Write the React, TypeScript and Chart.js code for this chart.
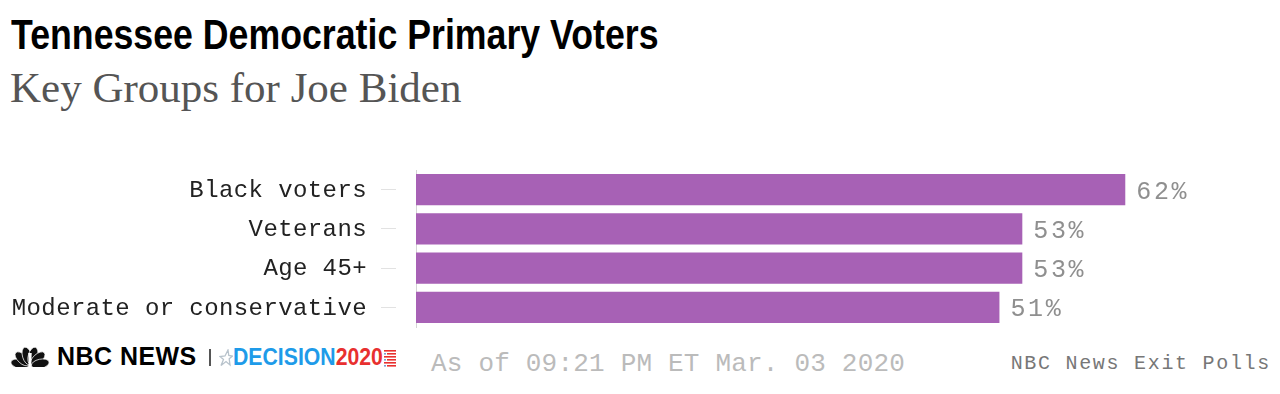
import React, { useEffect, useRef } from "react";
import { Chart, registerables } from "chart.js";

Chart.register(...registerables);

const categories = ["Black voters", "Veterans", "Age 45+", "Moderate or conservative"];
const values = [62, 53, 53, 51];
const valueSuffix = "%";
const xMax = 75;

const titleText = "Tennessee Democratic Primary Voters";
const subtitleText = "Key Groups for Joe Biden";
const asOfText = "As of 09:21 PM ET Mar. 03 2020";
const sourceText = "NBC News Exit Polls";

const BAR_COLOR = "#a761b5";
const MONO = '"Liberation Mono"';

const letterSpacingPlugin = {
  id: "letterSpacingPlugin",
  beforeDraw(chart: any) {
    chart.ctx.letterSpacing = "0.4px";
  },
};

const valueLabelPlugin = {
  id: "valueLabelPlugin",
  afterDatasetsDraw(chart: any) {
    const ctx = chart.ctx;
    const meta = chart.getDatasetMeta(0);
    ctx.save();
    ctx.letterSpacing = "2.6px";
    ctx.font = "25px " + MONO;
    ctx.fillStyle = "#8f8f8f";
    ctx.textAlign = "left";
    ctx.textBaseline = "alphabetic";
    meta.data.forEach((el: any, i: number) => {
      ctx.fillText(String(values[i]) + valueSuffix, el.x + 11, el.y + 9);
    });
    ctx.restore();
  },
};

function Peacock() {
  const angles = [-78, -47, -16, 16, 47, 78];
  const bx = 21;
  const by = 20;
  const dist = 10.5;
  return (
    <svg width="42" height="21" viewBox="0 0 42 21" style={{ position: "absolute", left: 9, top: 346 }}>
      {angles.map((a, i) => {
        const r = (a * Math.PI) / 180;
        const cx = bx + dist * Math.sin(r);
        const cy = by - dist * Math.cos(r);
        return (
          <ellipse
            key={i}
            cx={cx}
            cy={cy}
            rx={4.6}
            ry={9}
            fill="#111"
            stroke="#fff"
            strokeWidth={0.7}
            transform={`rotate(${a} ${cx} ${cy})`}
          />
        );
      })}
      <path d="M19.3 7 L22.7 7 L22.2 21 L19.8 21 Z" fill="#fff" />
    </svg>
  );
}

function Star() {
  return (
    <svg width="14" height="18" viewBox="0 0 14 18" style={{ position: "absolute", left: 219, top: 349 }}>
      <path
        d="M9 1 L9.8 6.5 L13.5 7 L10.2 9.8 L11 16 L7 12.5 L2 16.5 L4.5 10.5 L1 7.5 L6 7 Z"
        fill="none"
        stroke="#b8c3cc"
        strokeWidth="1.3"
      />
    </svg>
  );
}

function Stripes() {
  const rows = [0, 1, 2, 3, 4, 5];
  return (
    <svg width="13" height="17" viewBox="0 0 13 17" style={{ position: "absolute", left: 384, top: 350 }}>
      {rows.map((r) => (
        <rect key={r} x={r % 2 === 0 ? 0 : 3} y={r * 3} width={r % 2 === 0 ? 12 : 9} height={1.6} fill="#e8302f" />
      ))}
      <rect x={0} y={3} width={2} height={1.6} fill="#7a9fd6" />
      <rect x={0} y={9} width={2} height={1.6} fill="#7a9fd6" />
      <rect x={0} y={15} width={2} height={1.6} fill="#7a9fd6" />
    </svg>
  );
}

export default function App() {
  const canvasRef = useRef<HTMLCanvasElement | null>(null);

  useEffect(() => {
    if (!canvasRef.current) return;
    const chart = new Chart(canvasRef.current, {
      type: "bar",
      data: {
        labels: categories,
        datasets: [
          {
            data: values,
            backgroundColor: BAR_COLOR,
            borderWidth: 0,
            barPercentage: 0.79,
            categoryPercentage: 1,
          },
        ],
      },
      options: {
        indexAxis: "y",
        animation: false,
        responsive: false,
        maintainAspectRatio: false,
        devicePixelRatio: 1,
        layout: { padding: { top: 10, bottom: 13, left: 0, right: 6 } },
        plugins: {
          legend: { display: false },
          tooltip: { enabled: false },
        },
        scales: {
          x: {
            min: 0,
            max: xMax,
            display: false,
          },
          y: {
            position: "left",
            afterFit: (scale: any) => {
              scale.width = 416;
            },
            grid: {
              display: true,
              offset: false,
              drawOnChartArea: false,
              drawTicks: true,
              tickLength: 49,
              tickColor: "#e2e2e2",
              tickWidth: 1,
              tickBorderDash: [0, 14, 15, 20],
              tickBorderDashOffset: 0,
            },
            border: { display: true, color: "#d4d4d4", width: 1 },
            ticks: {
              padding: 0,
              labelOffset: 1,
              color: "#222222",
              font: { family: MONO, size: 24, lineHeight: 0.75 },
            },
          },
        },
      },
      plugins: [letterSpacingPlugin, valueLabelPlugin],
    } as any);
    return () => chart.destroy();
  }, []);

  return (
    <div
      style={{
        position: "absolute",
        left: 0,
        top: 0,
        width: 1280,
        height: 394,
        background: "#fff",
        overflow: "hidden",
      }}
    >
      <div
        style={{
          position: "absolute",
          left: 11,
          top: 14,
          font: 'bold 42px "Liberation Sans"',
          lineHeight: "42px",
          color: "#000",
          whiteSpace: "nowrap",
          transform: "scaleX(0.85)",
          transformOrigin: "left top",
        }}
      >
        {titleText}
      </div>
      <div
        style={{
          position: "absolute",
          left: 10,
          top: 66,
          font: '43px "Liberation Serif"',
          lineHeight: "43px",
          color: "#555",
          whiteSpace: "nowrap",
        }}
      >
        {subtitleText}
      </div>

      <canvas
        ref={canvasRef}
        width={1280}
        height={180}
        style={{ position: "absolute", left: 0, top: 160, width: 1280, height: 180 }}
      />

      <Peacock />
      <div
        style={{
          position: "absolute",
          left: 57,
          top: 343,
          font: 'bold 26px "Liberation Sans"',
          lineHeight: "26px",
          letterSpacing: "0.5px",
          color: "#000",
          whiteSpace: "nowrap",
          transform: "scaleX(0.96)",
          transformOrigin: "left top",
        }}
      >
        NBC NEWS
      </div>
      <div style={{ position: "absolute", left: 209, top: 349, width: 2, height: 17, background: "#555" }} />
      <Star />
      <div
        style={{
          position: "absolute",
          left: 233,
          top: 345,
          font: 'bold 24px "Liberation Sans"',
          lineHeight: "24px",
          whiteSpace: "nowrap",
          transform: "scaleX(0.885)",
          transformOrigin: "left top",
        }}
      >
        <span style={{ color: "#1e9be9" }}>DECISION</span>
        <span style={{ color: "#e8302f" }}>2020</span>
      </div>
      <Stripes />

      <div
        style={{
          position: "absolute",
          left: 431,
          top: 351,
          font: "26px " + MONO,
          lineHeight: "26px",
          letterSpacing: "0.2px",
          color: "#bbb",
          whiteSpace: "nowrap",
        }}
      >
        {asOfText}
      </div>
      <div
        style={{
          position: "absolute",
          right: 9,
          top: 354,
          font: "20px " + MONO,
          lineHeight: "20px",
          letterSpacing: "1.7px",
          color: "#777",
          whiteSpace: "nowrap",
        }}
      >
        {sourceText}
      </div>
    </div>
  );
}
